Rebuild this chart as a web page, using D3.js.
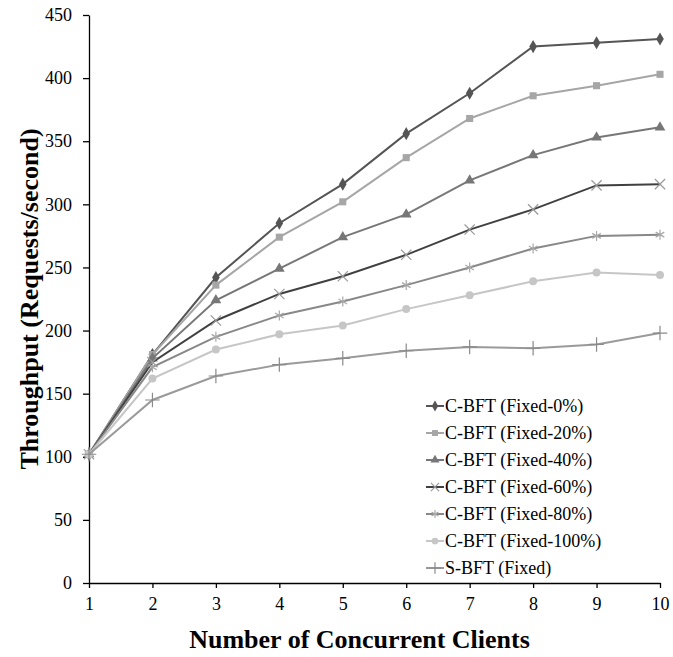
<!DOCTYPE html>
<html>
<head>
<meta charset="utf-8">
<script src="https://cdn.jsdelivr.net/npm/d3@7"></script>
<style>
  body { margin: 0; background: #fff; }
</style>
</head>
<body>
<svg id="chart"></svg>
<script>
const clients = [1, 2, 3, 4, 5, 6, 7, 8, 9, 10];
const yTicks = [0, 50, 100, 150, 200, 250, 300, 350, 400, 450];

const seriesNames = [
  "C-BFT (Fixed-0%)",
  "C-BFT (Fixed-20%)",
  "C-BFT (Fixed-40%)",
  "C-BFT (Fixed-60%)",
  "C-BFT (Fixed-80%)",
  "C-BFT (Fixed-100%)",
  "S-BFT (Fixed)"
];

const fixed0   = [102, 181, 242, 285, 316, 356, 388, 425, 428, 431];
const fixed20  = [102, 181, 236, 274, 302, 337, 368, 386, 394, 403];
const fixed40  = [102, 178, 224, 249, 274, 292, 319, 339, 353, 361];
const fixed60  = [102, 175, 208, 229, 243, 260, 280, 296, 315, 316];
const fixed80  = [102, 171, 195, 212, 223, 236, 250, 265, 275, 276];
const fixed100 = [102, 162, 185, 197, 204, 217, 228, 239, 246, 244];
const sbft     = [102, 145, 164, 173, 178, 184, 187, 186, 189, 198];

const seriesValues = [fixed0, fixed20, fixed40, fixed60, fixed80, fixed100, sbft];
const colors = ["#555555", "#a6a6a6", "#777777", "#404040", "#888888", "#c6c6c6", "#9a9a9a"];
const markerColors = ["#555555", "#a6a6a6", "#777777", "#9a9a9a", "#a8a8a8", "#c6c6c6", "#8a8a8a"];
const symbols = [d3.symbolDiamond, d3.symbolSquare, d3.symbolTriangle, d3.symbolX,
                 d3.symbolAsterisk, d3.symbolCircle, d3.symbolPlus];
const filled = [true, true, true, false, false, true, false];

const FONT = "'Liberation Serif', 'Times New Roman', serif";

const width = 673, height = 657;
const margin = { top: 15, right: 13, bottom: 74, left: 89 };

const svg = d3.select("#chart").attr("width", width).attr("height", height);

const x = d3.scaleLinear().domain([1, 10]).range([margin.left, width - margin.right]);
const y = d3.scaleLinear().domain([0, 450]).range([height - margin.bottom, margin.top]);

// axes
svg.append("g")
  .attr("transform", `translate(0,${height - margin.bottom})`)
  .call(d3.axisBottom(x).tickValues(clients).tickFormat(d3.format("d")).tickSize(5).tickPadding(9).tickSizeOuter(0))
  .attr("font-family", FONT)
  .call(g => g.selectAll("text").style("font-family", FONT).style("font-size", "18px").attr("fill", "#000"))
  .call(g => g.selectAll("line, path").attr("stroke", "#000").attr("stroke-width", 1.3));

svg.append("g")
  .attr("transform", `translate(${margin.left},0)`)
  .call(d3.axisLeft(y).tickValues(yTicks).tickSize(6).tickPadding(11).tickSizeOuter(0))
  .attr("font-family", FONT)
  .call(g => g.selectAll("text").style("font-family", FONT).style("font-size", "18px").attr("fill", "#000"))
  .call(g => g.selectAll("line, path").attr("stroke", "#000").attr("stroke-width", 1.3));

// titles
svg.append("text")
  .attr("x", (margin.left + width - margin.right) / 2 - 15)
  .attr("y", 648)
  .attr("text-anchor", "middle")
  .style("font-family", FONT)
  .style("font-size", "26px")
  .style("font-weight", "bold")
  .text("Number of Concurrent Clients");

svg.append("text")
  .attr("transform", `translate(38,${(margin.top + height - margin.bottom) / 2}) rotate(-90)`)
  .attr("text-anchor", "middle")
  .style("font-family", FONT)
  .style("font-size", "26px")
  .style("font-weight", "bold")
  .text("Throughput (Requests/second)");

// lines
const line = d3.line().x((d, i) => x(clients[i])).y(d => y(d));

seriesValues.forEach((vals, s) => {
  const g = svg.append("g");
  g.append("path")
    .attr("d", line(vals))
    .attr("fill", "none")
    .attr("stroke", colors[s])
    .attr("stroke-width", 2);
  const sym = d3.symbol().type(symbols[s]).size(filled[s] ? 50 : 70);
  g.selectAll("path.m")
    .data(vals)
    .enter()
    .append("path")
    .attr("class", "m")
    .attr("transform", (d, i) => `translate(${x(clients[i])},${y(d)})`)
    .attr("d", sym)
    .attr("fill", filled[s] ? markerColors[s] : "none")
    .attr("stroke", markerColors[s])
    .attr("stroke-width", filled[s] ? 0 : 1.2);
});

// legend
const legend = svg.append("g").attr("transform", "translate(426,406)");
seriesNames.forEach((name, s) => {
  const row = legend.append("g").attr("transform", `translate(0,${s * 27})`);
  row.append("line")
    .attr("x1", 0).attr("x2", 18)
    .attr("stroke", colors[s]).attr("stroke-width", 2);
  row.append("path")
    .attr("transform", "translate(9,0)")
    .attr("d", d3.symbol().type(symbols[s]).size(filled[s] ? 35 : 45))
    .attr("fill", filled[s] ? markerColors[s] : "none")
    .attr("stroke", markerColors[s])
    .attr("stroke-width", filled[s] ? 0 : 1.2);
  row.append("text")
    .attr("x", 19)
    .attr("dy", "0.35em")
    .style("font-family", FONT)
    .style("font-size", "18px")
    .attr("fill", "#000")
    .text(name);
});
</script>
</body>
</html>
